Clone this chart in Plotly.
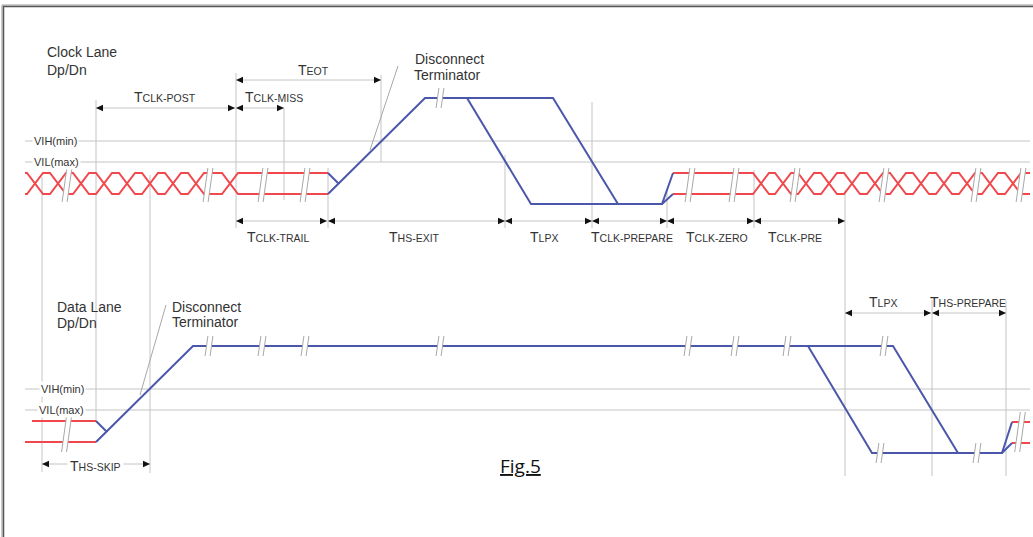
import plotly.graph_objects as go

W, H = 1033, 537
RED = "#f0484c"
BLUE = "#4b57aa"
GRID = "#c4c4c4"
SLASH = "#a8a8a8"
TXT = "#333333"
FONT = "Liberation Sans, Arial, sans-serif"

# ---------------- levels (diagram units) ----------------
CLK_HS_HI, CLK_HS_LO = 173, 194
CLK_LP_HI, CLK_LP_LO = 98, 204
CLK_VIH, CLK_VIL = 141, 162
DAT_HS_HI, DAT_HS_LO = 421, 442
DAT_LP_HI, DAT_LP_LO = 346, 453
DAT_VIH, DAT_VIL = 389, 410

# ---------------- HS clock bursts ----------------
CLK_SEG1 = (25, 328)
CLK_SEG1_CROSS = [35, 58, 81, 104, 127, 150, 173, 196, 230]
CLK_SEG2 = (673, 1030)
CLK_SEG2_CROSS = [761, 783, 806, 829, 852, 875, 898, 921, 944, 967, 990, 1013]
CROSS_HALF = 8

# ---------------- LP transitions (blue) ----------------
CLK_BLUE_A_X = [328, 425, 553, 618, 662, 673]
CLK_BLUE_A_Y = [194, 98, 98, 204, 204, 173]
CLK_BLUE_B_X = [328, 339, None, 467, 531, 662, 673]
CLK_BLUE_B_Y = [173, 184, None, 98, 204, 204, 194]

DAT_RED_X = [32, 96, None, 25, 96, None, 1012, 1030, None, 1012, 1030]
DAT_RED_Y = [421, 421, None, 442, 442, None, 422, 422, None, 443, 443]
DAT_BLUE_A_X = [96, 193, 893, 958, 1002, 1012]
DAT_BLUE_A_Y = [442, 346, 346, 453, 453, 422]
DAT_BLUE_B_X = [96, 107, None, 808, 872, 1002, 1012]
DAT_BLUE_B_Y = [421, 432, None, 346, 453, 453, 443]

# ---------------- breaks "//" : (x, y centre, height) ----------------
BREAKS = [(67, 185, 34), (208, 185, 34), (263, 185, 34), (305, 185, 34),
          (440, 98, 20),
          (690, 185, 34), (734, 185, 34), (795, 185, 34), (884, 185, 34),
          (976, 185, 34), (1021, 185, 34),
          (67, 431, 42),
          (209, 346, 20), (262, 346, 20), (305, 346, 20), (440, 346, 20),
          (688, 346, 20), (735, 346, 20), (787, 346, 20), (884, 346, 20),
          (880, 453, 20), (977, 453, 20), (1020, 432, 40)]

# ---------------- guides ----------------
HLINES = [(25, 1030, CLK_VIH), (25, 1030, CLK_VIL), (25, 1030, DAT_VIH), (25, 1030, DAT_VIL)]
VLINES = [(42, 177, 472), (96, 100, 421), (150, 175, 473), (236, 73, 228),
          (284, 108, 200), (328, 168, 228), (381, 75, 162), (505, 155, 228),
          (592, 102, 228), (667, 190, 228), (754, 170, 228), (845, 190, 476),
          (932, 300, 476), (1006, 300, 476)]
LEADERS = [(398, 66, 370, 150), (166, 305, 140, 395)]

# ---------------- dimension arrows: x1, x2, y ----------------
DIMS = [(236, 381, 80), (96, 235, 108), (236, 284, 108),
        (236, 327, 221), (328, 505, 221), (505, 592, 221), (592, 667, 221),
        (667, 754, 221), (754, 845, 221),
        (845, 931, 313), (932, 1006, 313), (42, 150, 464)]

# ---------------- timing labels: big T + small caps ----------------
TLABELS = [("EOT", 313, 70), ("CLK-POST", 165, 97), ("CLK-MISS", 274, 97),
           ("CLK-TRAIL", 278, 237), ("HS-EXIT", 414, 237), ("LPX", 544, 237),
           ("CLK-PREPARE", 632, 237), ("CLK-ZERO", 717, 237), ("CLK-PRE", 795, 237),
           ("LPX", 883, 302), ("HS-PREPARE", 968, 302), ("HS-SKIP", 95, 466)]

TEXTS = [("Clock Lane", 45, 52), ("Dp/Dn", 45, 70),
         ("Disconnect", 413, 59), ("Terminator", 412, 75),
         ("Data Lane", 55, 307), ("Dp/Dn", 55, 323),
         ("Disconnect", 170, 307), ("Terminator", 170, 322)]
LEVEL_LABELS = [("VIH(min)", 32, CLK_VIH), ("VIL(max)", 32, CLK_VIL),
                ("VIH(min)", 39, DAT_VIH), ("VIL(max)", 37, DAT_VIL)]


def hs_pair(x0, x1, cross, hi, lo, w):
    ax, ay, bx, by = [x0], [hi], [x0], [lo]
    ya, yb = hi, lo
    for c in cross:
        ax += [c - w, c + w]; ay += [ya, yb]
        bx += [c - w, c + w]; by += [yb, ya]
        ya, yb = yb, ya
    ax.append(x1); ay.append(ya)
    bx.append(x1); by.append(yb)
    return ax + [None] + bx, ay + [None] + by


fig = go.Figure()

def add_line(x, y, color):
    fig.add_trace(go.Scatter(x=x, y=y, mode="lines", line=dict(color=color, width=2),
                             hoverinfo="skip", showlegend=False, connectgaps=False))

x1, y1 = hs_pair(CLK_SEG1[0], CLK_SEG1[1], CLK_SEG1_CROSS, CLK_HS_HI, CLK_HS_LO, CROSS_HALF)
x2, y2 = hs_pair(CLK_SEG2[0], CLK_SEG2[1], CLK_SEG2_CROSS, CLK_HS_HI, CLK_HS_LO, CROSS_HALF)
add_line(x1 + [None] + x2, y1 + [None] + y2, RED)
add_line(CLK_BLUE_A_X, CLK_BLUE_A_Y, BLUE)
add_line(CLK_BLUE_B_X, CLK_BLUE_B_Y, BLUE)
add_line(DAT_RED_X, DAT_RED_Y, RED)
add_line(DAT_BLUE_A_X, DAT_BLUE_A_Y, BLUE)
add_line(DAT_BLUE_B_X, DAT_BLUE_B_Y, BLUE)

shapes = []
# frame
shapes.append(dict(type="line", x0=2, x1=2, y0=5, y1=H, line=dict(color="#999", width=1)))
shapes.append(dict(type="line", x0=3.5, x1=3.5, y0=6, y1=H, line=dict(color="#555", width=1.5)))
shapes.append(dict(type="line", x0=2, x1=W, y0=5, y1=5, line=dict(color="#999", width=1)))
shapes.append(dict(type="line", x0=3, x1=W, y0=6.5, y1=6.5, line=dict(color="#555", width=1.5)))

for xa, xb, y in HLINES:
    shapes.append(dict(type="line", x0=xa, x1=xb, y0=y, y1=y, layer="below",
                       line=dict(color=GRID, width=1)))
for x, ya, yb in VLINES:
    shapes.append(dict(type="line", x0=x, x1=x, y0=ya, y1=yb, layer="below",
                       line=dict(color=GRID, width=1)))
for xa, ya, xb, yb in LEADERS:
    shapes.append(dict(type="line", x0=xa, x1=xb, y0=ya, y1=yb, layer="below",
                       line=dict(color=SLASH, width=1)))

AH_L, AH_W = 7, 3.2
for xa, xb, y in DIMS:
    shapes.append(dict(type="line", x0=xa, x1=xb, y0=y, y1=y, layer="below",
                       line=dict(color=GRID, width=1)))
    shapes.append(dict(type="path", path=f"M{xa},{y} L{xa+AH_L},{y-AH_W} L{xa+AH_L},{y+AH_W} Z",
                       fillcolor="#111", line=dict(width=0)))
    shapes.append(dict(type="path", path=f"M{xb},{y} L{xb-AH_L},{y-AH_W} L{xb-AH_L},{y+AH_W} Z",
                       fillcolor="#111", line=dict(width=0)))

for x, yc, h in BREAKS:
    dx = h * 0.14
    g = 2.5
    yb, yt = yc + h / 2, yc - h / 2
    p = (f"M{x-g-dx/2},{yb} L{x-g+dx/2},{yt} L{x+g+dx/2},{yt} L{x+g-dx/2},{yb} Z")
    shapes.append(dict(type="path", path=p, fillcolor="white", line=dict(width=0)))
    for s in (-g, g):
        shapes.append(dict(type="line", x0=x + s - dx / 2, x1=x + s + dx / 2, y0=yb, y1=yt,
                           line=dict(color=SLASH, width=1)))

annotations = []
for t, x, y in TEXTS:
    annotations.append(dict(x=x, y=y, text=t, showarrow=False, xanchor="left", yanchor="middle",
                            font=dict(family=FONT, size=14, color=TXT)))
for t, x, y in LEVEL_LABELS:
    annotations.append(dict(x=x, y=y, text=t, showarrow=False, xanchor="left", yanchor="middle",
                            bgcolor="white", borderpad=1,
                            font=dict(family=FONT, size=11, color=TXT)))
for t, x, y in TLABELS:
    annotations.append(dict(x=x, y=y, text=f"T<span style='font-size:10.5px'>{t}</span>",
                            showarrow=False, xanchor="center", yanchor="middle",
                            bgcolor="white" if t == "HS-SKIP" else None, borderpad=2,
                            font=dict(family=FONT, size=14, color=TXT)))
annotations.append(dict(x=520, y=466, text="<u>Fig.5</u>", showarrow=False,
                        xanchor="center", yanchor="middle",
                        font=dict(family="Open Sans, sans-serif", size=19, color="#111")))

fig.update_layout(
    width=W, height=H, margin=dict(l=0, r=0, t=0, b=0),
    paper_bgcolor="white", plot_bgcolor="white",
    xaxis=dict(range=[0, W], visible=False, fixedrange=True),
    yaxis=dict(range=[H, 0], visible=False, fixedrange=True),
    shapes=shapes, annotations=annotations, showlegend=False,
)
fig.write_html("out.html", config={"displayModeBar": False},
               post_script="document.body.style.margin='0';document.body.style.overflow='hidden';")
